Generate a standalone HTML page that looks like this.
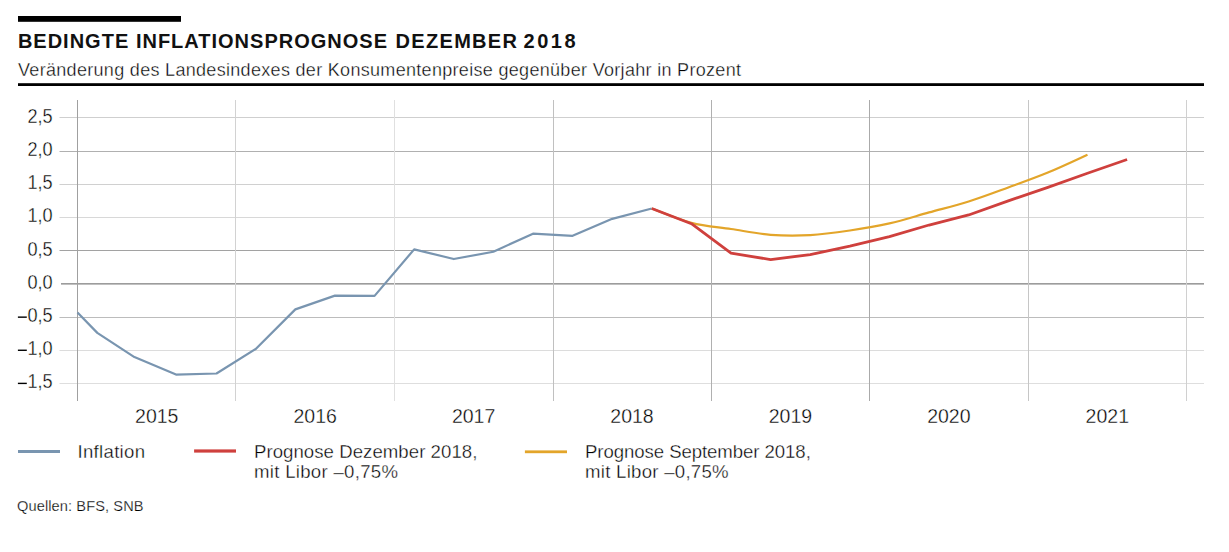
<!DOCTYPE html>
<html><head><meta charset="utf-8">
<style>
html,body{margin:0;padding:0;background:#fff;}
body{width:1229px;height:552px;overflow:hidden;position:relative;font-family:"Liberation Sans", sans-serif;}
svg{position:absolute;left:0;top:0;}
text{font-family:"Liberation Sans", sans-serif;fill:#000;stroke:#fff;stroke-width:0.35px;}
.title{font-weight:bold;font-size:20px;letter-spacing:1.0px;fill:#111;stroke:none;}
.sub{font-size:18px;letter-spacing:0.31px;}
.ax{font-size:19.5px;}
.leg{font-size:18.6px;letter-spacing:0.05px;}
.src{font-size:14.6px;letter-spacing:0.1px;stroke-width:0.25px;}
</style></head><body>
<svg width="1229" height="552" viewBox="0 0 1229 552">
<rect x="18" y="16" width="163" height="5.8" fill="#000"/>
<text y="47.8" class="title"><tspan x="17.9">BEDINGTE</tspan><tspan x="135.9">INFLATIONSPROGNOSE</tspan><tspan x="395.6" style="letter-spacing:1.3px">DEZEMBER</tspan><tspan x="523.6" style="letter-spacing:2.5px">2018</tspan></text>
<text x="18" y="75.9" class="sub">Veränderung des Landesindexes der Konsumentenpreise gegenüber Vorjahr in Prozent</text>
<rect x="18" y="83.2" width="1186" height="2.8" fill="#000"/>
<rect x="59.5" y="117" width="1144.5" height="1" fill="#cfcfcf"/>
<rect x="59.5" y="151" width="1144.5" height="1" fill="#b0b0b0"/>
<rect x="59.5" y="184" width="1144.5" height="1" fill="#d0d0d0"/>
<rect x="59.5" y="217" width="1144.5" height="1" fill="#d8d8d8"/>
<rect x="59.5" y="250" width="1144.5" height="1" fill="#a2a2a2"/>
<rect x="61" y="283" width="1143" height="1" fill="#9c9c9c"/>
<rect x="61" y="284" width="1143" height="1" fill="#c0c0c0"/>
<rect x="59.5" y="317" width="1144.5" height="1" fill="#bcbcbc"/>
<rect x="59.5" y="350" width="1144.5" height="1" fill="#dcdcdc"/>
<rect x="59.5" y="383" width="1144.5" height="1" fill="#dedede"/>
<rect x="77" y="100" width="1" height="301" fill="#a0a0a0"/>
<rect x="235" y="100" width="1" height="301" fill="#d2d2d2"/>
<rect x="394" y="100" width="1" height="301" fill="#e0e0e0"/>
<rect x="553" y="100" width="1" height="301" fill="#c0c0c0"/>
<rect x="711" y="100" width="1" height="301" fill="#b0b0b0"/>
<rect x="869" y="100" width="1" height="301" fill="#aaaaaa"/>
<rect x="1028" y="100" width="1" height="301" fill="#c6c6c6"/>
<rect x="1186" y="100" width="1" height="301" fill="#d0d0d0"/>
<polyline points="77.50,312.46 97.30,332.86 134.40,357.07 176.00,374.58 216.50,373.48 255.73,348.97 295.34,309.36 334.95,295.65 374.56,295.85 414.16,249.34 453.77,259.04 493.38,251.74 532.99,233.63 572.59,235.84 612.20,218.83 651.81,208.53" fill="none" stroke="#7995b0" stroke-width="2.2" stroke-linejoin="round"/>
<path d="M651.81,208.53 C658.41,210.91 678.21,219.41 691.42,222.83 C704.62,226.25 717.82,227.03 731.02,229.03 C744.23,231.03 757.43,233.82 770.63,234.84 C783.83,235.85 797.04,235.85 810.24,235.14 C823.44,234.42 836.64,232.48 849.85,230.53 C863.05,228.58 876.25,226.45 889.45,223.43 C902.66,220.41 915.86,216.10 929.06,212.43 C942.26,208.76 955.47,205.59 968.67,201.43 C981.87,197.26 995.07,192.24 1008.28,187.42 C1021.48,182.60 1034.68,177.97 1047.88,172.52 C1061.09,167.06 1080.89,157.68 1087.49,154.71" fill="none" stroke="#e3a52a" stroke-width="2.2" stroke-linejoin="round"/>
<polyline points="651.81,208.53 691.42,223.73 731.02,253.24 770.63,259.54 810.24,254.54 849.85,246.04 889.45,236.54 929.06,225.03 968.67,214.98 1008.28,200.83 1047.88,187.42 1087.49,173.22 1127.10,159.51" fill="none" stroke="#cf403d" stroke-width="2.8" stroke-linejoin="round"/>
<text transform="translate(52.6,123.00) scale(0.93,1)" text-anchor="end" class="ax">2,5</text>
<text transform="translate(52.6,156.12) scale(0.93,1)" text-anchor="end" class="ax">2,0</text>
<text transform="translate(52.6,189.25) scale(0.93,1)" text-anchor="end" class="ax">1,5</text>
<text transform="translate(52.6,222.38) scale(0.93,1)" text-anchor="end" class="ax">1,0</text>
<text transform="translate(52.6,255.50) scale(0.93,1)" text-anchor="end" class="ax">0,5</text>
<text transform="translate(52.6,288.62) scale(0.93,1)" text-anchor="end" class="ax">0,0</text>
<text transform="translate(52.6,321.75) scale(0.93,1)" text-anchor="end" class="ax">0,5</text>
<rect x="17.9" y="316.45" width="8.9" height="1.4" fill="#000"/>
<text transform="translate(52.6,354.88) scale(0.93,1)" text-anchor="end" class="ax">1,0</text>
<rect x="17.9" y="349.57" width="8.9" height="1.4" fill="#000"/>
<text transform="translate(52.6,388.00) scale(0.93,1)" text-anchor="end" class="ax">1,5</text>
<rect x="17.9" y="382.70" width="8.9" height="1.4" fill="#000"/>
<text transform="translate(156.72,423)" text-anchor="middle" class="ax">2015</text>
<text transform="translate(315.14,423)" text-anchor="middle" class="ax">2016</text>
<text transform="translate(473.58,423)" text-anchor="middle" class="ax">2017</text>
<text transform="translate(632.00,423)" text-anchor="middle" class="ax">2018</text>
<text transform="translate(790.44,423)" text-anchor="middle" class="ax">2019</text>
<text transform="translate(948.87,423)" text-anchor="middle" class="ax">2020</text>
<text transform="translate(1107.30,423)" text-anchor="middle" class="ax">2021</text>
<rect x="18" y="450" width="42" height="3" fill="#7995b0"/>
<text x="77.5" y="458" class="leg" style="letter-spacing:0.3px">Inflation</text>
<rect x="194.1" y="449.4" width="41.9" height="3.2" fill="#cf403d"/>
<text x="254" y="458.1" class="leg">Prognose Dezember 2018,</text>
<text x="254" y="478.2" class="leg" style="letter-spacing:0.3px">mit Libor –0,75%</text>
<rect x="524.9" y="450.4" width="42.1" height="2.8" fill="#e3a52a"/>
<text x="585" y="458.1" class="leg" style="letter-spacing:-0.07px">Prognose September 2018,</text>
<text x="585" y="478.2" class="leg" style="letter-spacing:0.27px">mit Libor –0,75%</text>
<text x="17" y="510.7" class="src">Quellen: BFS, SNB</text>
</svg>
</body></html>
